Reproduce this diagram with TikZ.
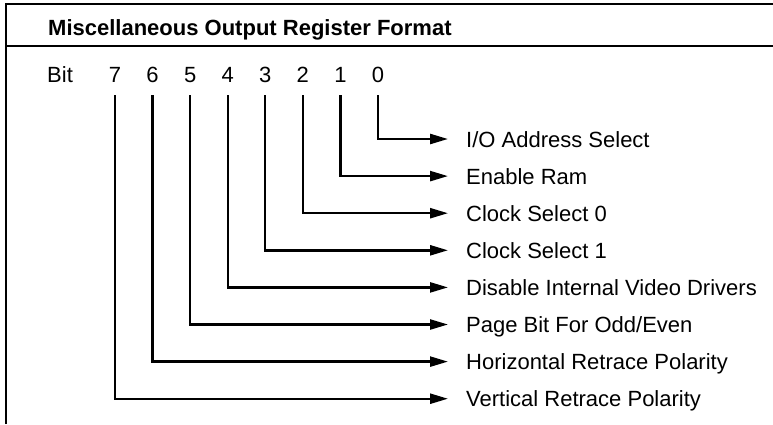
\documentclass[tikz,border=0pt]{standalone}
\usepackage{fontspec}
\setmainfont{Liberation Sans}
\usetikzlibrary{arrows.meta}
\begin{document}
\begin{tikzpicture}[x=1pt,y=-1pt,
  frameline/.style={line width=2.6pt},
  conn/.style={line width=2.4pt,-{Triangle[length=18pt,width=10pt]},shorten >=18pt},
  txt/.style={inner sep=0pt,text height=16pt,text depth=0pt,font=\fontsize{22}{26}\selectfont},
  lbl/.style={txt,anchor=west}]
\useasboundingbox (0,0) rectangle (773,424);
% frame
\draw[frameline] (6,424) -- (6,4) -- (773,4);
\draw[frameline] (6,46) -- (773,46);
% title
\node[lbl,font=\fontsize{22}{26}\selectfont\bfseries] (title) at (48,27) {Miscellaneous Output Register Format};
\node[lbl] (bit) at (47,74) {Bit};
% bit digits
\foreach \i in {0,...,7}{
  \pgfmathsetmacro{\xx}{378-37.57*\i}
  \node[txt] (b\i) at (\xx,74) {\i};
}
% labels
\foreach \i/\t in {0/{I/O Address Select},1/{Enable Ram},2/{Clock Select 0},3/{Clock Select 1},4/{Disable Internal Video Drivers},5/{Page Bit For Odd/Even},6/{Horizontal Retrace Polarity},7/{Vertical Retrace Polarity}}{
  \pgfmathsetmacro{\yy}{139+37.1*\i}
  \node[lbl] (l\i) at (466,\yy) {\t};
}
% connectors
\foreach \i in {0,...,7}{
  \draw[conn] ([yshift=-13pt]b\i.south) |- (l\i.west);
}
\end{tikzpicture}
\end{document}
